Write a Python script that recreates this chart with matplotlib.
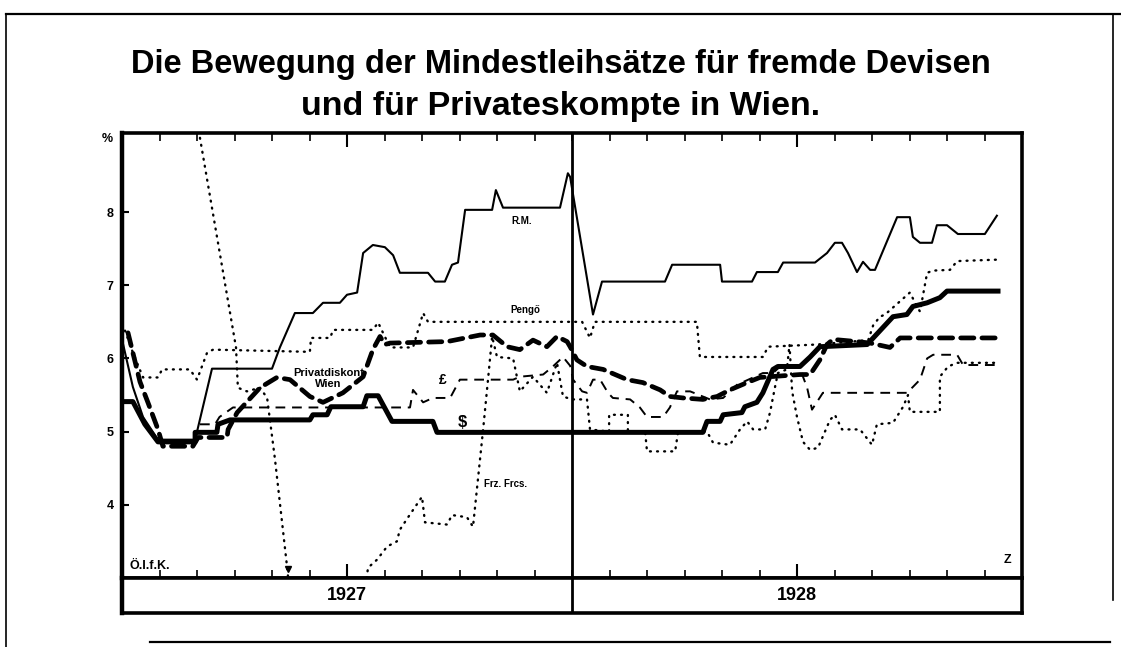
import matplotlib
matplotlib.use("Agg")
import matplotlib.pyplot as plt
from matplotlib.lines import Line2D

plt.rcParams['font.family'] = ['Liberation Sans', 'DejaVu Sans']

# x = months since 1 Jan 1927, y = percent
rm_x = [0, 0.29, 0.56, 0.96, 1.95, 2.4, 4.0, 4.21, 4.61, 5.09, 5.36, 5.81, 6.0, 6.27, 6.43, 6.69,
        7.01, 7.23, 7.41, 8.16, 8.35, 8.61, 8.8, 8.96, 9.15, 9.87, 9.97, 10.16, 11.68, 11.89, 11.95,
        12.56, 12.8, 14.48, 14.67, 15.95, 16.0, 16.8, 16.93, 17.49, 17.63, 18.48, 18.8, 19.01, 19.2,
        19.36, 19.6, 19.76, 19.95, 20.08, 20.67, 21.01, 21.09, 21.28, 21.6, 21.73, 22.0, 22.29, 23.01, 23.33]
rm_y = [6.26, 5.61, 5.2, 4.89, 4.89, 5.86, 5.86, 6.15, 6.62, 6.62, 6.76, 6.76, 6.87, 6.9, 7.44, 7.55,
        7.52, 7.41, 7.17, 7.17, 7.05, 7.05, 7.28, 7.31, 8.03, 8.03, 8.3, 8.06, 8.06, 8.53, 8.48,
        6.6, 7.05, 7.05, 7.28, 7.28, 7.05, 7.05, 7.18, 7.18, 7.31, 7.31, 7.44, 7.58, 7.58,
        7.44, 7.18, 7.32, 7.21, 7.21, 7.93, 7.93, 7.66, 7.58, 7.58, 7.82, 7.82, 7.7, 7.7, 7.95]

usd_x = [0, 0.29, 0.61, 0.96, 1.95, 1.95, 2.53, 2.56, 2.88, 5.01, 5.09, 5.47, 5.57, 6.43, 6.53, 6.83,
         7.2, 8.29, 8.4, 15.49, 15.6, 15.95, 16.03, 16.53, 16.61, 16.93, 17.09, 17.36, 17.49, 18.08,
         18.35, 18.61, 19.87, 20.56, 20.93, 21.09, 21.47, 21.81, 22.0, 23.36]
usd_y = [5.41, 5.41, 5.1, 4.86, 4.86, 4.99, 4.99, 5.1, 5.16, 5.16, 5.23, 5.23, 5.34, 5.34, 5.49, 5.49,
         5.14, 5.14, 4.99, 4.99, 5.14, 5.14, 5.23, 5.26, 5.34, 5.4, 5.53, 5.85, 5.89, 5.89,
         6.02, 6.16, 6.19, 6.57, 6.6, 6.71, 6.76, 6.83, 6.92, 6.92]

priv_x = [0.16, 0.48, 0.69, 0.96, 1.09, 1.89, 2.03, 2.8, 2.83, 3.07, 3.68, 4.13, 4.48, 5.01, 5.36,
          5.89, 6.43, 6.69, 6.88, 7.01, 7.15, 8.67, 9.55, 9.89, 10.27, 10.61, 10.96, 11.33, 11.6,
          11.87, 11.95, 12.13, 12.4, 12.83, 13.47, 13.89, 14.35, 14.61, 14.96, 15.49, 15.87, 16.21,
          16.67, 17.01, 18.08, 18.35, 18.61, 18.8, 18.96, 19.6, 19.95, 20.48, 20.75, 23.33]
priv_y = [6.35, 5.68, 5.4, 5.03, 4.8, 4.8, 4.92, 4.92, 5.03, 5.26, 5.6, 5.74, 5.71, 5.48, 5.4,
          5.53, 5.75, 6.12, 6.3, 6.19, 6.21, 6.23, 6.32, 6.32, 6.16, 6.12, 6.25, 6.16, 6.3,
          6.23, 6.16, 5.98, 5.89, 5.85, 5.71, 5.67, 5.57, 5.48, 5.46, 5.44, 5.48, 5.57,
          5.67, 5.74, 5.78, 5.78, 5.98, 6.19, 6.26, 6.23, 6.21, 6.15, 6.28, 6.28]

gbp_x = [2.08, 2.48, 2.6, 2.96, 7.68, 7.76, 8.03, 8.29, 8.75, 9.01, 10.43, 10.61, 11.23, 11.49,
         11.76, 11.95, 12.03, 12.27, 12.4, 12.56, 12.75, 12.96, 13.09, 13.55, 13.81, 14.0, 14.43,
         14.61, 14.8, 15.15, 15.68, 16.03, 16.4, 17.09, 17.36, 17.55, 18.08, 18.16, 18.27, 18.4,
         18.69, 20.93, 21.09, 21.28, 21.47, 21.63, 22.27, 22.43, 23.33]
gbp_y = [5.1, 5.1, 5.2, 5.33, 5.33, 5.57, 5.4, 5.46, 5.46, 5.71, 5.71, 5.75, 5.78, 5.89,
         6.02, 5.9, 5.71, 5.55, 5.53, 5.71, 5.71, 5.53, 5.46, 5.44, 5.33, 5.2, 5.2,
         5.33, 5.55, 5.55, 5.44, 5.46, 5.64, 5.8, 5.8, 5.89, 5.87, 5.75, 5.6, 5.3,
         5.53, 5.53, 5.61, 5.71, 6.0, 6.05, 6.05, 5.91, 5.91]

pengo_x = [0.08, 0.29, 0.56, 0.96, 1.07, 1.81, 2.0, 2.27, 2.43, 5.01, 5.04, 5.55, 5.63, 6.69,
           6.83, 6.96, 7.15, 7.76, 8.03, 8.16, 11.95, 12.27, 12.48, 12.61, 15.33, 15.41, 17.09,
           17.23, 18.53, 19.9, 20.03, 20.21, 20.35, 21.01, 21.2, 21.28, 21.47, 21.63, 22.08,
           22.27, 23.36]
pengo_y = [6.38, 6.08, 5.74, 5.74, 5.85, 5.85, 5.71, 6.08, 6.12, 6.09, 6.28, 6.28, 6.39, 6.39,
           6.49, 6.35, 6.15, 6.15, 6.62, 6.5, 6.5, 6.5, 6.28, 6.5, 6.5, 6.02, 6.02,
           6.16, 6.19, 6.25, 6.45, 6.57, 6.6, 6.9, 6.71, 6.64, 7.17, 7.2, 7.21,
           7.33, 7.35]

fres1_x = [2.02, 2.08, 3.04, 3.09, 3.33, 3.68, 3.87, 4.08, 4.4, 4.45]
fres1_y = [9.4, 9.01, 6.15, 5.6, 5.55, 5.6, 5.46, 4.62, 3.16, 2.9]
fres_arrow = (4.42, 3.12)

fres2_x = [6.5, 6.56, 6.8, 7.07, 7.33, 7.41, 7.63, 8.0, 8.08, 8.67, 8.8, 9.2, 9.36, 9.63, 9.76,
           9.87, 10.0, 10.43, 10.61, 10.96, 11.33, 11.6, 11.76, 12.0, 12.4, 12.48, 12.99, 12.99,
           13.49, 13.49, 13.95, 14.0, 14.75, 14.83, 15.6, 15.76, 16.21, 16.48, 16.67, 16.83, 17.15,
           17.28, 17.41, 17.49, 17.73, 17.8, 17.87, 18.0, 18.16, 18.35, 18.56, 18.88, 19.01, 19.2,
           19.68, 20.0, 20.13, 20.56, 20.83, 20.96, 21.01, 21.81, 21.81, 22.03, 22.27, 23.33]
fres2_y = [2.9, 3.14, 3.25, 3.43, 3.5, 3.66, 3.83, 4.11, 3.76, 3.73, 3.86, 3.83, 3.7, 5.03, 5.71,
           6.3, 6.02, 6.0, 5.55, 5.75, 5.53, 5.94, 5.48, 5.44, 5.44, 5.03, 5.0, 5.23,
           5.23, 5.0, 5.0, 4.73, 4.73, 5.0, 5.0, 4.85, 4.82, 5.03, 5.14, 5.03, 5.03,
           5.26, 5.6, 5.8, 5.85, 6.19, 5.55, 5.2, 4.86, 4.75, 4.78, 5.16, 5.23, 5.03,
           5.03, 4.82, 5.1, 5.12, 5.34, 5.5, 5.27, 5.27, 5.75, 5.89, 5.94, 5.94]

y_ticks = [4, 5, 6, 7, 8]
years = ['1927', '1928']
title_lines = ['Die Bewegung der Mindestleihsätze für fremde Devisen',
               'und für Privateskompte in Wien.']

W, H = 1121, 647
fig = plt.figure(figsize=(W / 100, H / 100), dpi=100)
fig.patch.set_facecolor('white')

# outer page frame
fig.add_artist(Line2D([6 / W, 6 / W], [1 - 14 / H, 0], color='k', lw=1.2))
fig.add_artist(Line2D([6 / W, 1], [1 - 14 / H, 1 - 14 / H], color='k', lw=1.6))
fig.add_artist(Line2D([1113 / W, 1113 / W], [1 - 14 / H, 1 - 600 / H], color='k', lw=1.2))
fig.add_artist(Line2D([150 / W, 1110 / W], [1 - 642 / H, 1 - 642 / H], color='k', lw=1.6))

fig.text(0.5, 1 - 64 / H, title_lines[0], ha='center', va='center',
         fontsize=23.5, fontweight='bold')
fig.text(0.5, 1 - 106 / H, title_lines[1], ha='center', va='center',
         fontsize=24.5, fontweight='bold')

ax = fig.add_axes([122 / W, 1 - 578 / H, 900 / W, 445 / H])
ax.set_xlim(0, 24)
ax.set_ylim(3.0, 9.08)

ax.plot(rm_x, rm_y, color='k', lw=1.5)
ax.plot(usd_x, usd_y, color='k', lw=3.6, solid_joinstyle='round')
ax.plot(priv_x, priv_y, color='k', lw=3.4, dashes=(2.8, 1.7), dash_capstyle='round')
ax.plot(gbp_x, gbp_y, color='k', lw=1.4, dashes=(5, 3.5))
ax.plot(pengo_x, pengo_y, color='k', lw=1.7, dashes=(0.4, 2.6), dash_capstyle='round')
ax.plot(fres1_x, fres1_y, color='k', lw=1.7, dashes=(0.4, 2.6), dash_capstyle='round')
ax.plot(fres2_x, fres2_y, color='k', lw=1.7, dashes=(0.4, 2.6), dash_capstyle='round')
ax.plot([fres_arrow[0]], [fres_arrow[1]], marker='v', color='k', ms=5)

ax.axvline(12, color='k', lw=2)

# series labels
ax.text(10.67, 7.88, 'R.M.', fontsize=7, fontweight='bold', ha='center', va='center')
ax.text(10.75, 6.66, 'Pengő', fontsize=7, fontweight='bold', ha='center', va='center')
ax.text(5.5, 5.8, 'Privatdiskont', fontsize=8, fontweight='bold', ha='center', va='center')
ax.text(5.5, 5.65, 'Wien', fontsize=8, fontweight='bold', ha='center', va='center')
ax.text(8.56, 5.71, '£', fontsize=10, fontweight='bold', ha='center', va='center')
ax.text(9.07, 5.13, '$', fontsize=12, fontweight='bold', ha='center', va='center')
ax.text(10.24, 4.29, 'Frz. Frcs.', fontsize=7, fontweight='bold', ha='center', va='center')
ax.text(0.2, 3.16, 'Ö.I.f.K.', fontsize=9, fontweight='bold', ha='left', va='center')
ax.text(23.62, 3.25, 'Z', fontsize=9, fontweight='bold', ha='center', va='center')
ax.text(-0.25, 9.0, '%', fontsize=9, fontweight='bold', ha='right', va='center')

for s in ax.spines.values():
    s.set_linewidth(2.6)
ax.spines['left'].set_linewidth(3.2)

ax.set_yticks(y_ticks)
ax.set_yticklabels([str(t) for t in y_ticks], fontsize=9, fontweight='bold')
ax.tick_params(axis='y', direction='in', length=5, width=1.5, pad=6, right=False)
ax.set_xticks([6, 18])
ax.set_xticks(range(1, 24), minor=True)
ax.tick_params(axis='x', which='major', direction='in', length=10, width=1.5,
               top=True, bottom=True, labelbottom=False)
ax.tick_params(axis='x', which='minor', direction='in', length=5.5, width=1.2,
               top=True, bottom=True)

# year band
bx = fig.add_axes([122 / W, 1 - 613 / H, 900 / W, 35 / H])
bx.set_xlim(0, 24)
bx.set_ylim(0, 1)
bx.set_xticks([])
bx.set_yticks([])
for s in bx.spines.values():
    s.set_linewidth(2.6)
bx.spines['left'].set_linewidth(3.2)
bx.axvline(12, color='k', lw=2)
for i, yr in enumerate(years):
    bx.text(6 + 12 * i, 0.5, yr, fontsize=13, fontweight='bold', ha='center', va='center')

fig.savefig('out.png', dpi=100, facecolor='white')
